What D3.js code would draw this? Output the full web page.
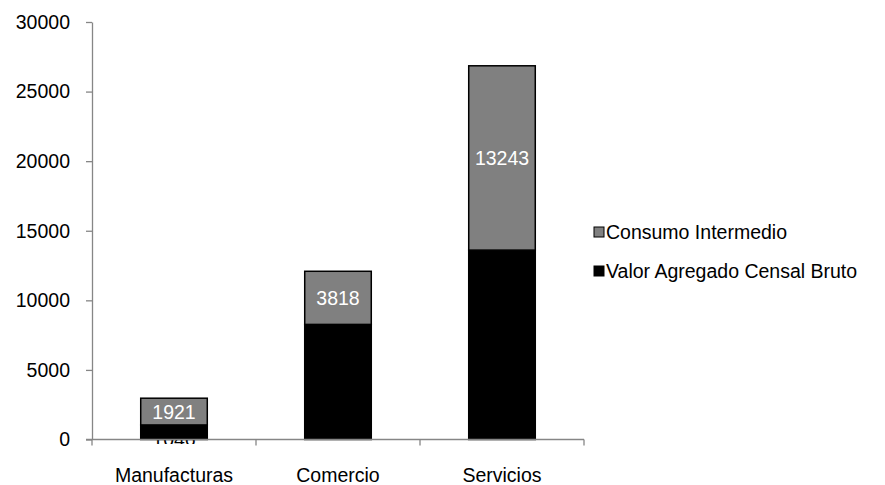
<!DOCTYPE html>
<html>
<head>
<meta charset="utf-8">
<script src="https://cdn.jsdelivr.net/npm/d3@7"></script>
<style>
  html, body { margin: 0; padding: 0; background: #fff; }
  svg { display: block; font-family: "Liberation Sans", Arial, sans-serif; }
</style>
</head>
<body>
<svg id="chart" width="885" height="485"></svg>
<script>
// Sectors and their two stacked components
const categories = ["Manufacturas", "Comercio", "Servicios"];
const valorAgregado = [1046, 8270, 13610];
const consumoIntermedio = [1921, 3818, 13243];
const seriesNames = ["Valor Agregado Censal Bruto", "Consumo Intermedio"];
const yTicks = [0, 5000, 10000, 15000, 20000, 25000, 30000];

const svg = d3.select("#chart");
const plotLeft = 92, plotRight = 584, plotTop = 22, plotBottom = 439.5;
const fontSize = 19.5;

const x = d3.scaleBand().domain(categories).range([plotLeft, plotRight]).paddingInner(0.585).paddingOuter(0.2925);
const y = d3.scaleLinear().domain([0, 30000]).range([plotBottom, plotTop]);

const rows = categories.map((c, i) => ({ cat: c, valor: valorAgregado[i], consumo: consumoIntermedio[i] }));
const stack = d3.stack().keys(["valor", "consumo"]);
const layers = stack(rows);
const colors = { valor: "#000000", consumo: "#808080" };

// clip so the value labels stay inside the plot area
svg.append("clipPath").attr("id", "plot")
  .append("rect").attr("x", plotLeft).attr("y", 0).attr("width", plotRight - plotLeft).attr("height", plotBottom + 4.5);

const g = svg.append("g");
layers.forEach(layer => {
  g.selectAll(null).data(layer).enter().append("rect")
    .attr("x", d => x(d.data.cat) + 0.75)
    .attr("y", d => y(d[1]))
    .attr("width", x.bandwidth() - 1.5)
    .attr("height", d => y(d[0]) - y(d[1]))
    .attr("fill", colors[layer.key])
    .attr("stroke", "#000")
    .attr("stroke-width", 1.5);
});

// value labels (the dark series' labels are dark on dark, only their overflow shows)
const labels = svg.append("g").attr("clip-path", "url(#plot)")
  .attr("font-size", fontSize).attr("text-anchor", "middle");
layers.forEach(layer => {
  const dark = layer.key === "valor";
  labels.selectAll(null).data(layer).enter().append("text")
    .attr("x", d => x(d.data.cat) + x.bandwidth() / 2)
    .attr("y", d => (y(d[0]) + y(d[1])) / 2)
    .attr("dy", dark ? "0.72em" : "0.36em")
    .attr("fill", dark ? "#000" : "#fff")
    .text(d => d[1] - d[0]);
});

// y axis
const yAxis = svg.append("g").attr("transform", `translate(${plotLeft},0)`)
  .call(d3.axisLeft(y).tickValues(yTicks).tickSize(6).tickSizeOuter(0).tickPadding(16).tickFormat(d3.format("d")));
yAxis.selectAll("line, path").attr("stroke", "#868686").attr("stroke-width", 1.3);
yAxis.selectAll("text").attr("font-size", fontSize).attr("fill", "#000").attr("font-family", "Liberation Sans, Arial, sans-serif");

// x axis with ticks between categories
const xAxis = svg.append("g").attr("transform", `translate(0,${plotBottom})`);
xAxis.append("line").attr("x1", plotLeft - 6).attr("x2", plotRight).attr("y1", 0).attr("y2", 0)
  .attr("stroke", "#868686").attr("stroke-width", 1.3);
const step = x.step();
const bounds = d3.range(categories.length + 1).map(i => plotLeft + i * step);
xAxis.selectAll(null).data(bounds).enter().append("line")
  .attr("x1", d => d).attr("x2", d => d).attr("y1", 0).attr("y2", 6)
  .attr("stroke", "#868686").attr("stroke-width", 1.3);
xAxis.selectAll(null).data(categories).enter().append("text")
  .attr("x", d => x(d) + x.bandwidth() / 2)
  .attr("y", 42)
  .attr("text-anchor", "middle")
  .attr("font-size", fontSize)
  .attr("fill", "#000")
  .text(d => d);

// legend
const legend = svg.append("g");
const legendItems = [
  { name: seriesNames[1], color: colors.consumo, y: 232 },
  { name: seriesNames[0], color: colors.valor, y: 271 }
];
legendItems.forEach(it => {
  legend.append("rect").attr("x", 594).attr("y", it.y - 5).attr("width", 10).attr("height", 10)
    .attr("fill", it.color).attr("stroke", "#000").attr("stroke-width", 1);
  legend.append("text").attr("x", 606).attr("y", it.y).attr("dy", "0.36em")
    .attr("font-size", fontSize).attr("fill", "#000").text(it.name);
});
</script>
</body>
</html>
